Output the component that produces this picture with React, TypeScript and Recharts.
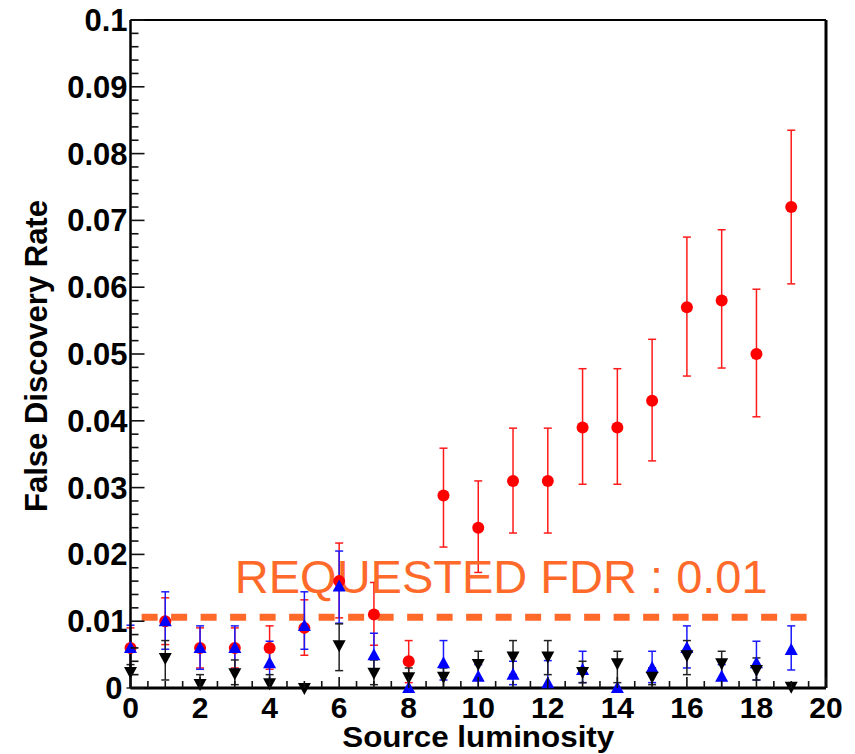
import { ComposedChart, Scatter, XAxis, YAxis, ErrorBar, ReferenceLine, ReferenceDot } from "recharts"

const FONT = '"Liberation Sans", Arial, Helvetica, sans-serif'

// source luminosity bins
const luminosity = [0, 1, 2, 3, 4, 5, 6, 7, 8, 9, 10, 11, 12, 13, 14, 15, 16, 17, 18, 19]

// red circles
const redFdr = [0.006, 0.01, 0.006, 0.006, 0.006, 0.009, 0.016, 0.011, 0.004, 0.0288, 0.024, 0.031, 0.031, 0.039, 0.039, 0.043, 0.057, 0.058, 0.05, 0.072]
const redLow = [0.003, 0.0065, 0.003, 0.003, 0.0028, 0.0049, 0.0105, 0.0064, 0.0008, 0.0211, 0.0173, 0.0232, 0.0232, 0.0305, 0.0305, 0.034, 0.0467, 0.0479, 0.0406, 0.0605]
const redHigh = [0.009, 0.0135, 0.009, 0.009, 0.0093, 0.0132, 0.0217, 0.0158, 0.0071, 0.0359, 0.031, 0.0389, 0.0389, 0.0478, 0.0478, 0.0522, 0.0675, 0.0686, 0.0597, 0.0835]

// blue up triangles
const blueFdr = [0.006, 0.01, 0.006, 0.006, 0.0037, 0.0093, 0.0152, 0.0049, 0, 0.0037, 0.0017, 0.002, 0.0007, 0.0027, 0, 0.003, 0.006, 0.0017, 0.0037, 0.0057]
const blueLow = [0.003, 0.0058, 0.0028, 0.0028, 0.0012, 0.0058, 0.0097, 0.0025, 0, 0.0012, 0, 0.0005, 0, 0.0008, 0, 0.0008, 0.003, 0, 0.0012, 0.0027]
const blueHigh = [0.0094, 0.0144, 0.0093, 0.0093, 0.007, 0.0144, 0.0205, 0.0082, 0, 0.0071, 0.0035, 0.004, 0.0041, 0.0055, 0, 0.0055, 0.0093, 0.0035, 0.007, 0.0093]

// black down triangles
const blackFdr = [0.0024, 0.0045, 0.0006, 0.0022, 0.0007, 0, 0.0064, 0.0023, 0.0016, 0.0017, 0.0036, 0.0047, 0.0047, 0.0024, 0.0037, 0.0017, 0.0049, 0.0037, 0.0027, 0.0002]
const blackLow = [0, 0.0012, 0, 0.0005, 0, 0, 0.0026, 0.0005, 0, 0, 0.0012, 0.002, 0.002, 0.0008, 0.0008, 0.0005, 0.002, 0.0012, 0.0012, 0]
const blackHigh = [0.0035, 0.0071, 0.002, 0.0042, 0.002, 0, 0.0096, 0.0042, 0.003, 0.003, 0.0055, 0.0071, 0.0071, 0.004, 0.0055, 0.003, 0.0071, 0.0055, 0.0045, 0.0002]

const xTickLabels = ["0", "2", "4", "6", "8", "10", "12", "14", "16", "18", "20"]
const yTickLabels = ["0", "0.01", "0.02", "0.03", "0.04", "0.05", "0.06", "0.07", "0.08", "0.09", "0.1"]

const requestedFdr = 0.0106
const requestedText = "REQUESTED FDR : 0.01"
const ORANGE = "#ff6a2b"

// minor tick grids (every 0.5 on x, every 0.002 on y)
const xTicks = Array.from({ length: 41 }, (_, i) => i * 0.5)
const yTicks = Array.from({ length: 51 }, (_, i) => +(i * 0.002).toFixed(3))

const toPoints = (vals: number[], lo: number[], hi: number[]) =>
  luminosity.map((x, i) => ({ x, y: vals[i], err: [vals[i] - lo[i], hi[i] - vals[i]] }))

const redPoints = toPoints(redFdr, redLow, redHigh)
const bluePoints = toPoints(blueFdr, blueLow, blueHigh)
const blackPoints = toPoints(blackFdr, blackLow, blackHigh)

const xMajor = (v: number) => Math.abs(v / 2 - Math.round(v / 2)) < 1e-6
const yMajor = (v: number) => Math.abs(v * 100 - Math.round(v * 100)) < 1e-6

function BottomTick(props: any) {
  const { x, y, payload } = props
  const major = xMajor(payload.value)
  return (
    <g>
      <line x1={x} y1={y} x2={x} y2={y - (major ? 11 : 7)} stroke="#111" strokeWidth={1.6} />
      {major && (
        <text x={x} y={y + 30} textAnchor="middle" fontSize={30} fontWeight="bold" fontFamily={FONT} fill="#000">
          {xTickLabels[Math.round(payload.value / 2)]}
        </text>
      )}
    </g>
  )
}

function TopTick(props: any) {
  const { x, y, payload } = props
  const major = xMajor(payload.value)
  return <line x1={x} y1={y} x2={x} y2={y + (major ? 12 : 7)} stroke="#111" strokeWidth={1.6} />
}

function LeftTick(props: any) {
  const { x, y, payload } = props
  const major = yMajor(payload.value)
  const idx = Math.round(payload.value * 100)
  // the zero label sits a little further left, clear of the x-axis "0"
  const dx = idx === 0 ? 8 : 3
  return (
    <g>
      <line x1={x} y1={y} x2={x + (major ? 14 : 8)} y2={y} stroke="#111" strokeWidth={1.6} />
      {major && (
        <text x={x - dx} y={y + 11} textAnchor="end" fontSize={31} fontWeight="bold" fontFamily={FONT} fill="#000">
          {yTickLabels[idx]}
        </text>
      )}
    </g>
  )
}

function RightTick(props: any) {
  const { x, y, payload } = props
  const major = yMajor(payload.value)
  return <line x1={x} y1={y} x2={x - (major ? 15 : 8)} y2={y} stroke="#111" strokeWidth={1.6} />
}

const RedCircle = (p: any) => <circle cx={p.cx} cy={p.cy} r={6} fill="#ff0000" />
const BlueUp = (p: any) => (
  <polygon points={`${p.cx},${p.cy - 7} ${p.cx - 6.5},${p.cy + 5} ${p.cx + 6.5},${p.cy + 5}`} fill="#0000ff" />
)
const BlackDown = (p: any) => (
  <polygon points={`${p.cx},${p.cy + 7} ${p.cx - 6.5},${p.cy - 5} ${p.cx + 6.5},${p.cy - 5}`} fill="#000" />
)

const axisLine = { stroke: "#000", strokeWidth: 3 }

export default function App() {
  return (
    <div style={{ position: "absolute", left: 0, top: 0, background: "#fff" }}>
      <ComposedChart width={855} height={754} margin={{ top: 19, right: 28, bottom: 65, left: 0 }}>
        <XAxis
          xAxisId={0}
          dataKey="x"
          type="number"
          domain={[0, 20]}
          ticks={xTicks}
          interval={0}
          tickSize={0}
          tickMargin={0}
          height={1}
          axisLine={axisLine}
          tickLine={false}
          tick={<BottomTick />}
          label={(p: any) => {
            const vb = p.viewBox
            return (
              <text
                x={vb.x + vb.width / 2}
                y={vb.y + 59}
                textAnchor="middle"
                fontSize={29}
                fontWeight="bold"
                fontFamily={FONT}
                fill="#000"
                textLength={272}
                lengthAdjust="spacingAndGlyphs"
              >
                Source luminosity
              </text>
            )
          }}
        />
        <XAxis
          xAxisId="top"
          orientation="top"
          type="number"
          domain={[0, 20]}
          ticks={xTicks}
          interval={0}
          tickSize={0}
          tickMargin={0}
          height={1}
          axisLine={{ stroke: "#000", strokeWidth: 2 }}
          tickLine={false}
          tick={<TopTick />}
        />
        <YAxis
          yAxisId={0}
          dataKey="y"
          type="number"
          domain={[0, 0.1]}
          ticks={yTicks}
          interval={0}
          tickSize={0}
          tickMargin={0}
          width={130.5}
          axisLine={{ stroke: "#000", strokeWidth: 2.5 }}
          tickLine={false}
          tick={<LeftTick />}
          label={(p: any) => {
            const vb = p.viewBox
            const cx = vb.x + 47
            const cy = vb.y + vb.height / 2 + 2
            return (
              <text x={cx} y={cy} transform={`rotate(-90 ${cx} ${cy})`} textAnchor="middle" fontSize={31} fontWeight="bold" fontFamily={FONT} fill="#000">
                False Discovery Rate
              </text>
            )
          }}
        />
        <YAxis
          yAxisId="right"
          orientation="right"
          type="number"
          domain={[0, 0.1]}
          ticks={yTicks}
          interval={0}
          tickSize={0}
          tickMargin={0}
          width={1}
          axisLine={axisLine}
          tickLine={false}
          tick={<RightTick />}
        />

        <ReferenceLine
          segment={[{ x: 0.32, y: requestedFdr }, { x: 19.57, y: requestedFdr }]}
          stroke={ORANGE}
          strokeWidth={7}
          strokeDasharray="16 13.5"
        />
        <ReferenceDot
          x={3}
          y={0.0142}
          r={0}
          stroke="none"
          fill="none"
          label={(p: any) => (
            <text x={p.viewBox.x} y={p.viewBox.y} fontSize={47} fontFamily={FONT} fill={ORANGE}>
              {requestedText}
            </text>
          )}
        />

        <Scatter data={redPoints} dataKey="y" shape={RedCircle} isAnimationActive={false}>
          <ErrorBar dataKey="err" direction="y" width={4} stroke="#ff1a1a" strokeWidth={1.5} />
        </Scatter>
        <Scatter data={bluePoints} dataKey="y" shape={BlueUp} isAnimationActive={false}>
          <ErrorBar dataKey="err" direction="y" width={4} stroke="#1a1aff" strokeWidth={1.5} />
        </Scatter>
        <Scatter data={blackPoints} dataKey="y" shape={BlackDown} isAnimationActive={false}>
          <ErrorBar dataKey="err" direction="y" width={4} stroke="#222" strokeWidth={1.5} />
        </Scatter>
      </ComposedChart>
    </div>
  )
}
